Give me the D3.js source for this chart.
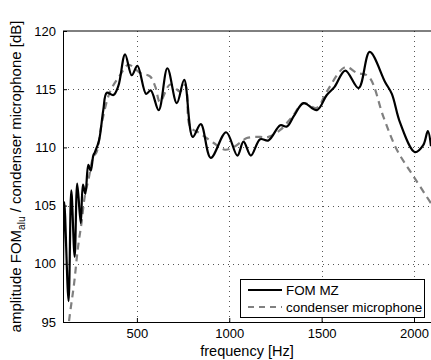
<!DOCTYPE html>
<html>
<head>
<meta charset="utf-8">
<script src="https://cdn.jsdelivr.net/npm/d3@7"></script>
<style>
  body { margin: 0; background: #fff; }
  svg { display: block; font-family: "Liberation Sans", Arial, Helvetica, sans-serif; }
</style>
</head>
<body>
<svg id="chart" width="431" height="360"></svg>
<script>
// FOM MZ (solid)
var fomFreq = [100, 107, 130, 145, 163, 177, 196, 208, 221, 237, 250, 264, 273, 295, 318, 337, 373, 400, 436, 472, 503, 550, 575, 618, 665, 716, 756, 802, 846, 900, 983, 1044, 1077, 1117, 1167, 1212, 1276, 1312, 1350, 1402, 1474, 1528, 1570, 1628, 1700, 1760, 1844, 1880, 1925, 2005, 2050, 2075, 2092];
var fomDb = [99.5, 105.3, 96.8, 106.3, 100.6, 106.9, 103.5, 106.8, 106.0, 108.5, 108.0, 109.3, 109.6, 110.6, 113.2, 114.7, 114.5, 115.3, 118.0, 116.2, 117.0, 114.6, 114.9, 113.2, 116.8, 113.8, 115.8, 110.9, 112.0, 109.1, 111.3, 109.3, 110.5, 109.3, 110.7, 110.6, 111.9, 111.8, 112.7, 113.8, 113.2, 114.5, 115.2, 116.6, 115.1, 118.2, 115.6, 114.6, 112.1, 109.6, 110.2, 111.4, 110.1];

// condenser microphone (dashed)
var micFreq = [110, 136, 160, 181, 200, 218, 240, 264, 282, 310, 355, 409, 454, 517, 571, 600, 625, 680, 734, 761, 772, 788, 842, 914, 977, 1032, 1095, 1167, 1212, 1276, 1339, 1402, 1474, 1528, 1628, 1691, 1754, 1835, 1907, 1998, 2092];
var micDb = [92.0, 95.5, 98.3, 101.4, 103.5, 105.8, 107.4, 109.2, 109.6, 112.1, 114.8, 116.2, 117.1, 116.4, 116.1, 115.2, 113.9, 115.4, 114.8, 115.4, 114.6, 111.8, 111.2, 110.4, 109.8, 110.1, 110.8, 110.9, 110.9, 111.5, 112.6, 113.8, 113.4, 114.8, 116.9, 116.4, 116.1, 112.6, 109.8, 107.5, 105.2];

var xTicks = [500, 1000, 1500, 2000];
var yTicks = [95, 100, 105, 110, 115, 120];
var legendLabels = ["FOM MZ", "condenser microphone"];

var margin = { left: 63, top: 31, right: 0, bottom: 38 };
var W = 431, H = 360;

var svg = d3.select("#chart");

var x = d3.scaleLinear().domain([100, 2092]).range([margin.left, W - margin.right]);
var y = d3.scaleLinear().domain([95, 120]).range([H - margin.bottom, margin.top]);

svg.append("defs").append("clipPath").attr("id", "clip")
  .append("rect")
    .attr("x", x.range()[0])
    .attr("y", y.range()[1])
    .attr("width", x.range()[1] - x.range()[0])
    .attr("height", y.range()[0] - y.range()[1]);

// grid
var grid = svg.append("g").attr("class", "grid")
  .style("stroke", "#555")
  .style("stroke-width", 1)
  .style("stroke-dasharray", "1,4");

grid.selectAll(".gx").data(xTicks).join("line")
  .attr("class", "gx")
  .attr("x1", function(d) { return Math.round(x(d)) + 0.5; })
  .attr("x2", function(d) { return Math.round(x(d)) + 0.5; })
  .attr("y1", y(120))
  .attr("y2", y(95));

grid.selectAll(".gy").data(yTicks.slice(1, -1)).join("line")
  .attr("class", "gy")
  .attr("x1", x(100))
  .attr("x2", W)
  .attr("y1", function(d) { return Math.round(y(d)) + 0.5; })
  .attr("y2", function(d) { return Math.round(y(d)) + 0.5; });

// axes
var xAxis = d3.axisBottom(x).tickValues(xTicks).tickFormat(d3.format("d"))
  .tickSizeInner(-4).tickSizeOuter(0).tickPadding(7);
var yAxis = d3.axisLeft(y).tickValues(yTicks).tickFormat(d3.format("d"))
  .tickSizeInner(-4).tickSizeOuter(0).tickPadding(7);

var gx = svg.append("g")
  .attr("transform", "translate(0," + y(95) + ")")
  .call(xAxis);
var gy = svg.append("g")
  .attr("transform", "translate(" + x(100) + ",0)")
  .call(yAxis);

svg.selectAll(".tick text").style("font-size", "13px").attr("fill", "#000");
svg.selectAll(".domain, .tick line").attr("stroke", "#000");

// top border
svg.append("line")
  .attr("x1", x(100)).attr("x2", W)
  .attr("y1", y(120)).attr("y2", y(120))
  .attr("stroke", "#000");

// curves
var line = d3.line()
  .x(function(d) { return x(d[0]); })
  .y(function(d) { return y(d[1]); })
  .curve(d3.curveCatmullRom.alpha(0.5));

var plot = svg.append("g").attr("clip-path", "url(#clip)");

plot.append("path")
  .datum(d3.zip(micFreq, micDb))
  .attr("d", line)
  .attr("fill", "none")
  .attr("stroke", "#808080")
  .attr("stroke-width", 2.2)
  .attr("stroke-dasharray", "7,5");

plot.append("path")
  .datum(d3.zip(fomFreq, fomDb))
  .attr("d", line)
  .attr("fill", "none")
  .attr("stroke", "#000")
  .attr("stroke-width", 2.2)
  .attr("stroke-linejoin", "round");

// labels
svg.append("text")
  .attr("x", (x.range()[0] + x.range()[1]) / 2)
  .attr("y", 356)
  .attr("text-anchor", "middle")
  .style("font-size", "14.5px")
  .text("frequency [Hz]");

var yl = svg.append("text")
  .attr("transform", "translate(21," + ((y.range()[0] + y.range()[1]) / 2) + ") rotate(-90)")
  .attr("text-anchor", "middle")
  .style("font-size", "15px");
yl.append("tspan").text("amplitude FOM");
yl.append("tspan").attr("dy", 4).style("font-size", "10px").text("alu");
yl.append("tspan").attr("dy", -4).text(" / condenser microphone [dB]");

// legend
var lg = svg.append("g").attr("transform", "translate(240,279)");
lg.append("rect")
  .attr("x", 0.5).attr("y", 0.5)
  .attr("width", 184).attr("height", 38)
  .attr("fill", "#fff")
  .attr("stroke", "#000");

var items = lg.selectAll(".item").data(legendLabels).join("g")
  .attr("class", "item")
  .attr("transform", function(d, i) { return "translate(0," + (11 + i * 17) + ")"; });

items.append("line")
  .attr("x1", 8).attr("x2", 42)
  .attr("stroke", function(d, i) { return i ? "#808080" : "#000"; })
  .attr("stroke-width", 2)
  .attr("stroke-dasharray", function(d, i) { return i ? "6,5" : null; });

items.append("text")
  .attr("x", 46)
  .attr("y", 4.5)
  .style("font-size", "13.4px")
  .text(function(d) { return d; });
</script>
</body>
</html>
